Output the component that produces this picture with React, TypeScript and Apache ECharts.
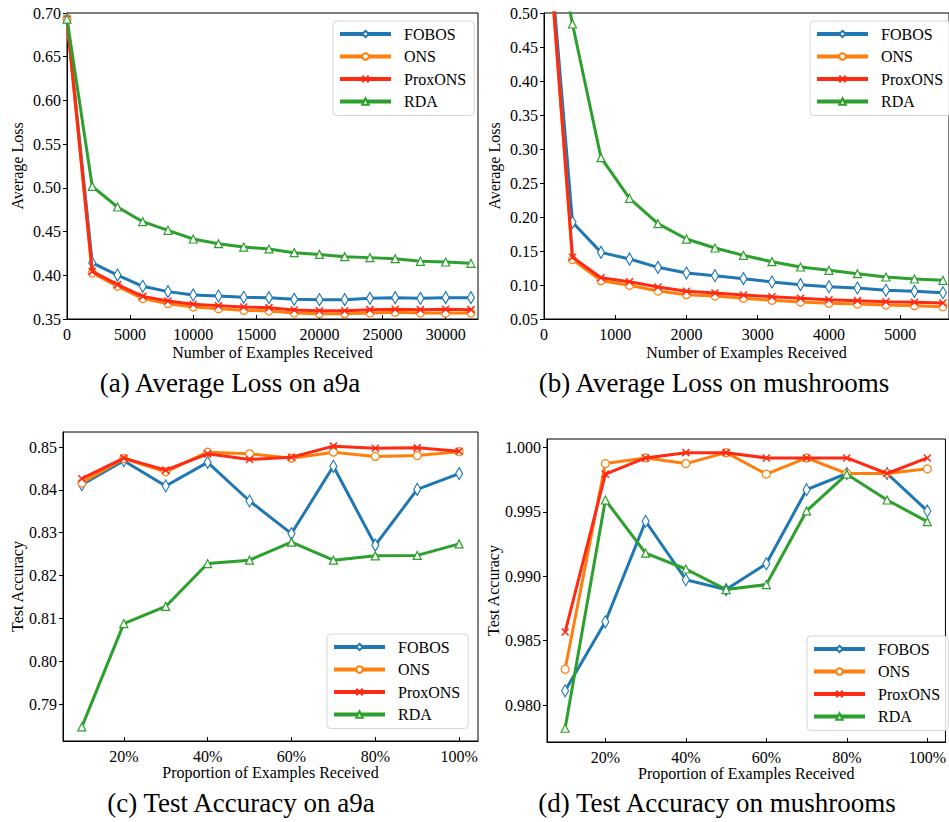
import React, { useEffect, useRef } from "react";
import * as echarts from "echarts";

const FONT = "Liberation Serif, Times New Roman, serif";
const NAMES = ["FOBOS", "ONS", "ProxONS", "RDA"];
const COLORS = ["#1f77b4", "#ff7f0e", "#ff2a12", "#2ca02c"];

// (a) Average loss on a9a
const a9aX = [0, 2000, 4000, 6000, 8000, 10000, 12000, 14000, 16000, 18000, 20000, 22000, 24000, 26000, 28000, 30000, 32000];
const a9aFOBOS = [0.6931, 0.4141, 0.4003, 0.3874, 0.3813, 0.3775, 0.3763, 0.3748, 0.3744, 0.3725, 0.3721, 0.3721, 0.3736, 0.3744, 0.3736, 0.3744, 0.3744];
const a9aONS = [0.6931, 0.4026, 0.3874, 0.3733, 0.3675, 0.3637, 0.3618, 0.3599, 0.3592, 0.3569, 0.3561, 0.3561, 0.3569, 0.3576, 0.3569, 0.3569, 0.3569];
const a9aProxONS = [0.6931, 0.4045, 0.3893, 0.3759, 0.3706, 0.3668, 0.3653, 0.3637, 0.363, 0.3603, 0.3595, 0.3595, 0.3607, 0.3611, 0.3607, 0.3611, 0.3607];
const a9aRDA = [0.6931, 0.5017, 0.4781, 0.4613, 0.4514, 0.4415, 0.4361, 0.4323, 0.4301, 0.4259, 0.4239, 0.4213, 0.4202, 0.419, 0.416, 0.4152, 0.4137];
const a9aXTicks = [0, 5000, 10000, 15000, 20000, 25000, 30000];
const lossA9aYTicks = [0.35, 0.4, 0.45, 0.5, 0.55, 0.6, 0.65, 0.7];

// (b) Average loss on mushrooms
const mushX = [0, 400, 800, 1200, 1600, 2000, 2400, 2800, 3200, 3600, 4000, 4400, 4800, 5200, 5600];
const mushFOBOS = [0.6931, 0.1922, 0.148, 0.1382, 0.126, 0.1176, 0.1137, 0.1093, 0.1044, 0.1005, 0.0975, 0.0956, 0.0922, 0.0907, 0.0887];
const mushONS = [0.6931, 0.1373, 0.1064, 0.0995, 0.0912, 0.0858, 0.0838, 0.0804, 0.0775, 0.075, 0.073, 0.0721, 0.0706, 0.0696, 0.0681];
const mushProxONS = [0.6931, 0.1407, 0.1108, 0.1049, 0.0971, 0.0907, 0.0882, 0.0853, 0.0828, 0.0804, 0.0784, 0.077, 0.0755, 0.0745, 0.0735];
const mushRDA = [0.6931, 0.4838, 0.2873, 0.2275, 0.1902, 0.1676, 0.1544, 0.1436, 0.1343, 0.1265, 0.1216, 0.1167, 0.1118, 0.1088, 0.1069];
const mushXTicks = [0, 1000, 2000, 3000, 4000, 5000];
const lossMushYTicks = [0.05, 0.1, 0.15, 0.2, 0.25, 0.3, 0.35, 0.4, 0.45, 0.5];

// (c),(d) test accuracy
const proportions = [10, 20, 30, 40, 50, 60, 70, 80, 90, 100];
const accA9aFOBOS = [0.8412, 0.8468, 0.8409, 0.8464, 0.8374, 0.8298, 0.8455, 0.8271, 0.8401, 0.8438];
const accA9aONS = [0.8416, 0.8473, 0.8442, 0.8488, 0.8484, 0.8474, 0.8488, 0.8478, 0.848, 0.8489];
const accA9aProxONS = [0.8426, 0.8474, 0.8446, 0.8484, 0.8471, 0.8476, 0.8502, 0.8497, 0.8498, 0.849];
const accA9aRDA = [0.7847, 0.8088, 0.8128, 0.8228, 0.8236, 0.8278, 0.8236, 0.8246, 0.8247, 0.8274];

const accMushFOBOS = [0.98111, 0.98647, 0.99428, 0.98974, 0.98897, 0.99098, 0.99673, 0.99799, 0.99799, 0.99508];
const accMushONS = [0.98278, 0.99876, 0.9992, 0.99876, 0.99961, 0.99794, 0.9992, 0.99799, 0.99799, 0.99835];
const accMushProxONS = [0.98567, 0.99794, 0.9992, 0.99961, 0.99961, 0.9992, 0.9992, 0.9992, 0.99799, 0.9992];
const accMushRDA = [0.9782, 0.99593, 0.9918, 0.99057, 0.98897, 0.98936, 0.99508, 0.99794, 0.99593, 0.99425];

const accXTicks = [20, 40, 60, 80, 100];
const accA9aYTicks = [0.79, 0.8, 0.81, 0.82, 0.83, 0.84, 0.85];
const accMushYTicks = [0.98, 0.985, 0.99, 0.995, 1.0];

const captions = [
  "(a) Average Loss on a9a",
  "(b) Average Loss on mushrooms",
  "(c) Test Accuracy on a9a",
  "(d) Test Accuracy on mushrooms",
];

const XPATH = "path://M0,0L10,10M10,0L0,10";

function symbolFor(i: number) {
  if (i === 0) return { symbol: "diamond", symbolSize: [7, 12] };
  if (i === 1) return { symbol: "circle", symbolSize: 8 };
  if (i === 2) return { symbol: XPATH, symbolSize: 7 };
  return { symbol: "triangle", symbolSize: 8 };
}

function makeSeries(gridIndex: number, xs: number[], ys: number[][]) {
  return ys.map((vals, i) => ({
    name: NAMES[i],
    type: "line",
    xAxisIndex: gridIndex,
    yAxisIndex: gridIndex,
    data: xs.map((x, k) => [x, vals[k]]),
    clip: true,
    ...symbolFor(i),
    showAllSymbol: true,
    lineStyle: { color: COLORS[i], width: 3 },
    itemStyle: {
      color: i === 2 ? COLORS[i] : "#ffffff",
      borderColor: COLORS[i],
      borderWidth: i === 2 ? 1.5 : 1.2,
    },
    z: 2 + i,
  }));
}

const labelStyle = { color: "#000", fontFamily: FONT, fontSize: 16 };

function xAxisOf(gridIndex: number, min: number, max: number, ticks: number[], fmt: (v: number) => string, name: string, nameGap: number) {
  return {
    type: "value",
    gridIndex,
    min,
    max,
    name,
    nameGap,
    nameLocation: "middle",
    nameTextStyle: { color: "#000", fontFamily: FONT, fontSize: 16 },
    axisLine: { show: true, lineStyle: { color: "#000", width: 1 } },
    axisTick: { show: true, inside: true, length: 4, lineStyle: { color: "#000" }, customValues: ticks },
    axisLabel: { ...labelStyle, margin: 7, customValues: ticks, formatter: fmt },
    splitLine: { show: false },
  };
}

function yAxisOf(gridIndex: number, min: number, max: number, ticks: number[], digits: number, name: string, nameGap: number) {
  return {
    type: "value",
    gridIndex,
    min,
    max,
    name,
    nameGap,
    nameLocation: "middle",
    nameTextStyle: { color: "#000", fontFamily: FONT, fontSize: 16 },
    axisLine: { show: true, lineStyle: { color: "#000", width: 1 } },
    axisTick: { show: true, inside: false, length: 4, lineStyle: { color: "#000" }, customValues: ticks },
    axisLabel: { ...labelStyle, margin: 6, customValues: ticks, formatter: (v: number) => v.toFixed(digits) },
    splitLine: { show: false },
  };
}

function legendOf(left: number, top: number) {
  return {
    data: NAMES,
    orient: "vertical",
    left,
    top,
    padding: [5, 8, 6, 5],
    itemWidth: 51,
    itemHeight: 8,
    itemGap: 6.5,
    backgroundColor: "rgba(255,255,255,0.85)",
    borderColor: "#d6d6d6",
    borderWidth: 1,
    borderRadius: 4,
    lineStyle: { width: 4 },
    textStyle: { color: "#000", fontFamily: FONT, fontSize: 16, padding: [0, 0, 0, 8] },
  };
}

const plain = (v: number) => String(Math.round(v));
const pct = (v: number) => `${Math.round(v)}%`;

export default function App() {
  const ref = useRef<HTMLDivElement>(null);
  useEffect(() => {
    if (!ref.current) return;
    const chart = echarts.init(ref.current, null, { renderer: "svg" });
    const option: any = {
      animation: false,
      backgroundColor: "#fff",
      grid: [
        { left: 67, top: 13, width: 411, height: 306, show: true, borderColor: "#000", borderWidth: 1 },
        { left: 544, top: 13, width: 411, height: 306, show: true, borderColor: "#000", borderWidth: 1 },
        { left: 63, top: 432, width: 415, height: 309, show: true, borderColor: "#000", borderWidth: 1 },
        { left: 547, top: 439, width: 408, height: 303, show: true, borderColor: "#000", borderWidth: 1 },
      ],
      xAxis: [
        xAxisOf(0, 0, 32561, a9aXTicks, plain, "Number of Examples Received", 25),
        xAxisOf(1, 0, 5685, mushXTicks, plain, "Number of Examples Received", 25),
        xAxisOf(2, 5.5, 104.5, accXTicks, pct, "Proportion of Examples Received", 21),
        xAxisOf(3, 5.5, 104.5, accXTicks, pct, "Proportion of Examples Received", 21),
      ],
      yAxis: [
        yAxisOf(0, 0.35, 0.7, lossA9aYTicks, 2, "Average Loss", 42),
        yAxisOf(1, 0.05, 0.5, lossMushYTicks, 2, "Average Loss", 42),
        yAxisOf(2, 0.7814, 0.8535, accA9aYTicks, 2, "Test Accuracy", 38),
        yAxisOf(3, 0.97713, 1.00067, accMushYTicks, 3, "Test Accuracy", 45),
      ],
      legend: [legendOf(333, 21), legendOf(810, 21), legendOf(327, 634), legendOf(807, 636)],
      series: [
        ...makeSeries(0, a9aX, [a9aFOBOS, a9aONS, a9aProxONS, a9aRDA]),
        ...makeSeries(1, mushX, [mushFOBOS, mushONS, mushProxONS, mushRDA]),
        ...makeSeries(2, proportions, [accA9aFOBOS, accA9aONS, accA9aProxONS, accA9aRDA]),
        ...makeSeries(3, proportions, [accMushFOBOS, accMushONS, accMushProxONS, accMushRDA]),
      ],
      graphic: [
        { x: 230, y: 383, text: captions[0] },
        { x: 714, y: 383, text: captions[1] },
        { x: 241, y: 803, text: captions[2] },
        { x: 717, y: 803, text: captions[3] },
      ].map((c) => ({
        type: "text",
        x: c.x,
        y: c.y,
        style: {
          text: c.text,
          fill: "#000",
          font: `27px ${FONT}`,
          align: "center",
          verticalAlign: "middle",
          letterSpacing: 1,
        },
      })),
    };
    chart.setOption(option);
    return () => chart.dispose();
  }, []);
  return (
    <div
      ref={ref}
      style={{ position: "fixed", left: 0, top: 0, width: 949, height: 822, overflow: "hidden" }}
    />
  );
}
